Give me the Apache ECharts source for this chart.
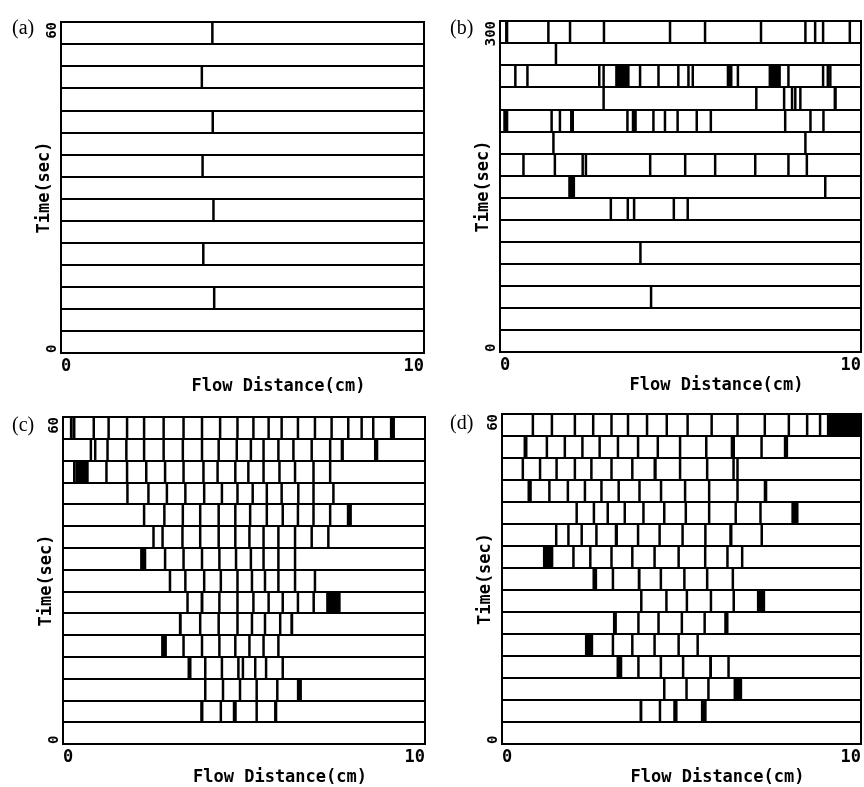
<!DOCTYPE html>
<html>
<head>
<meta charset="utf-8">
<script src="https://cdn.jsdelivr.net/npm/echarts@6/dist/echarts.min.js"></script>
<style>
  html, body { margin: 0; padding: 0; background: #fff; }
  #chart { width: 864px; height: 787px; }
</style>
</head>
<body>
<div id="chart"></div>
<script>
// each strip = one time row (top row = latest time); values in cm along the flow
var marksA = [[4.17], [], [3.88], [], [4.18], [], [3.90], [], [4.20], [], [3.92], [], [4.22], [], []];
var blocksA = [[], [], [], [], [], [], [], [], [], [], [], [], [], [], []];

var marksB = [
  [1.34, 1.94, 2.88, 4.71, 5.68, 7.23, 8.46, 8.73, 9.69],
  [1.55],
  [0.76, 2.75, 2.87, 3.88, 4.39, 4.94, 5.22, 5.34, 6.59, 7.99, 8.95, 9.08, 9.15],
  [2.87, 7.10, 7.87, 8.09, 8.18, 8.32],
  [1.43, 1.66, 3.53, 4.25, 4.57, 4.92, 5.45, 5.84, 7.90, 8.60, 8.96],
  [1.48, 8.46],
  [0.65, 1.52, 2.29, 2.38, 4.16, 5.13, 5.96, 7.07, 7.99, 8.50],
  [9.01],
  [3.07, 3.54, 5.20],
  [],
  [],
  [],
  [],
  [],
  []
];
var blocksB = [
  [[0.14, 0.23], [8.92, 8.98]],
  [],
  [[0.39, 0.46], [3.19, 3.59], [6.28, 6.44], [7.44, 7.78]],
  [[9.24, 9.33]],
  [[0.09, 0.23], [1.94, 2.05], [3.65, 3.79]],
  [],
  [],
  [[1.89, 2.08]],
  [[3.68, 3.75], [4.79, 4.84]],
  [],
  [[3.86, 3.92]],
  [],
  [[4.16, 4.21]],
  [],
  []
];

var marksC = [
  [0.31, 0.85, 1.26, 1.77, 2.24, 2.78, 3.33, 3.84, 4.34, 4.82, 5.26, 5.68, 6.04, 6.49, 6.96, 7.42, 7.88, 8.25, 8.57],
  [0.77, 0.89, 1.23, 1.75, 2.24, 2.78, 3.31, 3.84, 4.30, 4.80, 5.19, 5.54, 5.95, 6.87, 7.38],
  [0.31, 1.20, 1.77, 2.30, 2.82, 3.33, 3.88, 4.27, 4.76, 5.12, 5.54, 5.98, 6.41, 6.92, 7.38],
  [1.78, 2.36, 2.87, 3.38, 3.90, 4.39, 4.82, 5.24, 5.63, 6.04, 6.50, 6.92, 7.47],
  [2.24, 2.80, 3.31, 3.79, 4.30, 4.76, 5.17, 5.63, 6.07, 6.49, 6.92, 7.38],
  [2.50, 2.75, 3.30, 3.79, 4.30, 4.76, 5.15, 5.54, 5.95, 6.41, 6.87, 7.33],
  [2.82, 3.33, 3.84, 4.32, 4.78, 5.19, 5.54, 5.95, 6.41],
  [3.38, 3.90, 4.36, 4.82, 5.22, 5.58, 5.95, 6.41, 6.96],
  [3.44, 4.32, 4.82, 5.26, 5.68, 6.07, 6.49],
  [3.79, 4.30, 4.82, 5.22, 5.58, 6.00],
  [3.33, 3.84, 4.32, 4.76, 5.15, 5.54, 5.95],
  [3.93, 4.39, 4.97, 5.31, 5.61, 6.07],
  [3.93, 4.42, 4.89, 5.35, 5.92],
  [4.36, 5.35],
  []
];
var blocksC = [
  [[0.19, 0.27], [9.03, 9.17]],
  [[6.33, 6.40], [7.67, 7.76], [8.59, 8.71]],
  [[0.34, 0.71]],
  [],
  [[7.84, 7.98]],
  [],
  [[2.13, 2.30]],
  [[2.92, 2.99]],
  [[3.80, 3.88], [6.89, 6.96], [7.27, 7.67]],
  [[3.20, 3.28], [6.28, 6.36]],
  [[2.71, 2.87]],
  [[3.44, 3.55], [4.81, 4.88]],
  [[6.46, 6.60]],
  [[3.79, 3.88], [4.69, 4.80], [5.83, 5.92]],
  []
];

var marksD = [
  [0.86, 1.39, 2.03, 2.54, 3.05, 3.51, 4.04, 4.59, 5.17, 5.84, 6.56, 7.32, 7.99, 8.50, 8.86],
  [1.25, 1.75, 2.24, 2.72, 3.23, 3.79, 4.34, 4.96, 7.23],
  [0.58, 1.06, 1.52, 2.03, 2.49, 3.05, 3.63, 4.96, 6.45, 6.56],
  [1.32, 2.31, 2.77, 3.25, 3.83, 4.43, 5.77, 6.56],
  [2.08, 2.56, 3.42, 3.94, 4.52, 5.12, 5.77, 6.51, 7.20],
  [1.51, 1.85, 2.22, 2.63, 3.79, 4.39, 5.03],
  [1.99, 3.05, 3.63, 4.92, 5.66, 6.28, 6.69],
  [3.09, 5.08],
  [3.88, 5.15],
  [3.80, 4.36, 5.01],
  [3.09, 3.63, 4.25, 4.92, 5.45],
  [3.80, 6.31],
  [4.52, 5.14, 5.75],
  [4.40],
  []
];
var blocksD = [
  [[9.05, 10]],
  [[0.60, 0.71], [5.66, 5.72], [6.37, 6.49], [7.85, 7.97]],
  [[4.22, 4.31], [5.68, 5.75]],
  [[0.71, 0.83], [1.80, 1.87], [5.08, 5.12], [7.29, 7.39]],
  [[2.91, 2.98], [8.06, 8.26]],
  [[3.14, 3.23], [5.63, 5.70], [6.33, 6.42], [7.20, 7.27]],
  [[1.14, 1.43], [2.43, 2.49], [4.22, 4.28]],
  [[2.52, 2.65], [3.78, 3.86], [4.39, 4.46], [5.68, 5.75], [6.40, 6.46]],
  [[4.55, 4.61], [5.79, 5.85], [6.42, 6.49], [7.10, 7.33]],
  [[3.09, 3.20], [5.61, 5.68], [6.19, 6.31]],
  [[2.31, 2.54]],
  [[3.19, 3.35], [4.39, 4.46], [5.01, 5.08], [5.77, 5.85]],
  [[6.45, 6.69]],
  [[3.83, 3.91], [4.77, 4.89], [5.54, 5.70]],
  []
];

var timeMax = [60, 300, 60, 60];
var panelNames = ['(a)', '(b)', '(c)', '(d)'];
var distMax = 10;
var rowCount = 15;

var panels = [
  { marks: marksA, blocks: blocksA, grid: { left: 61, top: 22, width: 363, height: 331 }, title: { left: 12, top: 19 } },
  { marks: marksB, blocks: blocksB, grid: { left: 500, top: 21, width: 361, height: 331 }, title: { left: 450, top: 19 } },
  { marks: marksC, blocks: blocksC, grid: { left: 63, top: 417, width: 362, height: 331 }, title: { left: 12, top: 416 } },
  { marks: marksD, blocks: blocksD, grid: { left: 502, top: 414, width: 361, height: 332 }, title: { left: 450, top: 414 } }
];

var MONO = "'DejaVu Sans Mono', monospace";

function renderStrip(params, api) {
  var x0 = api.value(0), x1 = api.value(1);
  var a = api.coord([x0, api.value(2)]);
  var b = api.coord([x1, api.value(3)]);
  var x = a[0], w = b[0] - a[0];
  if (w < 2.5) {
    x = (a[0] + b[0]) / 2 - 1.25;
    w = 2.5;
  }
  return {
    type: 'rect',
    shape: { x: x, y: a[1], width: w, height: b[1] - a[1] },
    style: { fill: '#000' }
  };
}

function buildData(marks, blocks, tMax) {
  var dt = tMax / rowCount;
  var out = [];
  for (var i = 0; i < rowCount; i++) {
    var top = tMax - i * dt, bot = tMax - (i + 1) * dt;
    marks[i].forEach(function (m) { out.push([m, m, top, bot]); });
    blocks[i].forEach(function (b) { out.push([b[0], b[1], top, bot]); });
  }
  return out;
}

var grids = [], xAxes = [], yAxes = [], series = [], titles = [];
panels.forEach(function (p, i) {
  var tMax = timeMax[i];
  grids.push({
    left: p.grid.left, top: p.grid.top, width: p.grid.width, height: p.grid.height,
    show: true, borderColor: '#000', borderWidth: 2, backgroundColor: '#fff'
  });
  titles.push({
    text: panelNames[i], left: p.title.left, top: p.title.top, padding: 0,
    textStyle: { fontFamily: "'Liberation Serif', serif", fontSize: 20, fontWeight: 'normal', color: '#000' }
  });
  xAxes.push({
    type: 'value', gridIndex: i, min: 0, max: distMax, interval: distMax,
    name: 'Flow Distance(cm)', nameLocation: 'middle', nameGap: 25, nameMoveOverlap: false,
    nameTextStyle: { fontFamily: MONO, fontWeight: 'bold', fontSize: 17, color: '#000', padding: [0, 0, 0, 72] },
    axisLine: { show: false }, axisTick: { show: false }, splitLine: { show: false },
    axisLabel: {
      margin: 5, fontFamily: MONO, fontWeight: 'bold', fontSize: 17, color: '#000',
      alignMinLabel: 'left', alignMaxLabel: 'right'
    }
  });
  yAxes.push({
    type: 'value', gridIndex: i, min: 0, max: tMax, interval: tMax / rowCount,
    name: 'Time(sec)', nameLocation: 'middle', nameGap: 8, nameMoveOverlap: false,
    nameTextStyle: { fontFamily: MONO, fontWeight: 'bold', fontSize: 17, color: '#000' },
    axisLine: { show: false }, axisTick: { show: false },
    splitLine: { show: true, lineStyle: { color: '#000', width: 2 } },
    axisLabel: {
      rotate: 90, margin: 2, fontFamily: MONO, fontWeight: 'bold', fontSize: 14, color: '#000',
      alignMinLabel: 'left', alignMaxLabel: 'right',
      formatter: function (v) { return (v === 0 || v === tMax) ? String(v) : ''; }
    }
  });
  series.push({
    type: 'custom', xAxisIndex: i, yAxisIndex: i,
    renderItem: renderStrip,
    encode: { x: [0, 1], y: [2, 3] },
    data: buildData(p.marks, p.blocks, tMax),
    animation: false, silent: true
  });
});

var chart = echarts.init(document.getElementById('chart'), null, { renderer: 'canvas' });
chart.setOption({
  backgroundColor: '#fff',
  animation: false,
  title: titles,
  grid: grids,
  xAxis: xAxes,
  yAxis: yAxes,
  series: series
});
</script>
</body>
</html>
